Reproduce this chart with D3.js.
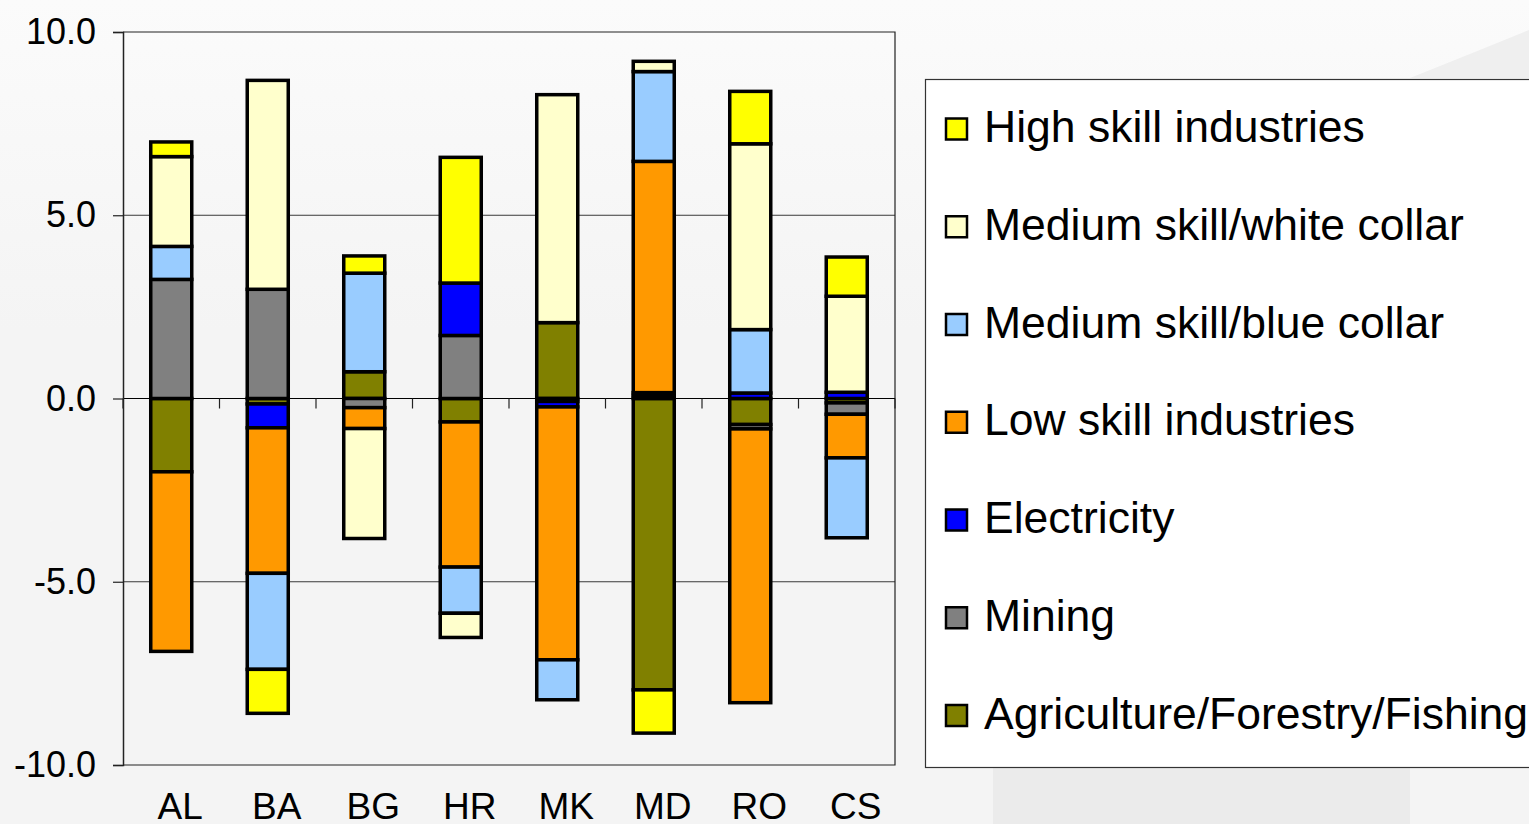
<!DOCTYPE html>
<html>
<head>
<meta charset="utf-8">
<script src="https://cdn.jsdelivr.net/npm/d3@7"></script>
<style>
  body { margin: 0; background: #f4f4f4; }
  svg { display: block; font-family: "Liberation Sans", Arial, sans-serif; }
</style>
</head>
<body>
<svg id="chart" width="1529" height="824"></svg>
<script>
// countries along the x axis
var countries = ["AL", "BA", "BG", "HR", "MK", "MD", "RO", "CS"];

// series, in stacking order (first one sits next to zero)
var seriesNames = ["Agriculture/Forestry/Fishing", "Mining", "Electricity", "Low skill industries",
                   "Medium skill/blue collar", "Medium skill/white collar", "High skill industries"];
var seriesColors = ["#808000", "#808080", "#0000ff", "#ff9900", "#99ccff", "#ffffcc", "#ffff00"];

// one value per country
var agriculture = [-2.0, -0.15, 0.73, -0.64, 2.07, -7.95, -0.71, -0.12];
var mining      = [3.25, 2.98, -0.25, 1.72, -0.08, 0.08, -0.12, -0.31];
var electricity = [0, -0.65, 0, 1.43, -0.15, 0.08, 0.15, 0.17];
var lowSkill    = [-4.9, -3.97, -0.57, -3.96, -6.9, 6.31, -7.47, -1.19];
var blueCollar  = [0.9, -2.62, 2.69, -1.26, -1.09, 2.45, 1.73, -2.18];
var whiteCollar = [2.45, 5.7, -3.0, -0.66, 6.22, 0.28, 5.07, 2.62];
var highSkill   = [0.4, -1.2, 0.47, 3.43, 0, -1.18, 1.43, 1.07];

var yTicks = [10, 5, 0, -5, -10];

var seriesValues = [agriculture, mining, electricity, lowSkill, blueCollar, whiteCollar, highSkill];

// table for d3.stack : one row per country
var rows = countries.map(function(c, i) {
  var r = { country: c };
  seriesNames.forEach(function(s, j) { r[s] = seriesValues[j][i]; });
  return r;
});

var svg = d3.select("#chart");

// ---- background ----
var defs = svg.append("defs");
var grad = defs.append("linearGradient").attr("id", "bg").attr("x1", 0).attr("y1", 0).attr("x2", 0).attr("y2", 1);
grad.append("stop").attr("offset", "0%").attr("stop-color", "#fbfbfb");
grad.append("stop").attr("offset", "40%").attr("stop-color", "#f4f4f4");
grad.append("stop").attr("offset", "100%").attr("stop-color", "#f4f4f4");
svg.append("rect").attr("width", 1529).attr("height", 824).attr("fill", "url(#bg)");
svg.append("path").attr("d", "M1410,78 Q1480,50 1529,30 L1529,78 Z").attr("fill", "#efefef");
svg.append("rect").attr("x", 993).attr("y", 768).attr("width", 417).attr("height", 56).attr("fill", "#ebebeb");

// ---- scales ----
var plotLeft = 123, plotRight = 895, plotTop = 32, plotBottom = 765;

var x = d3.scaleBand()
  .domain(countries)
  .range([plotLeft, plotRight])
  .paddingInner(0.575)
  .paddingOuter(0.2875);

var y = d3.scaleLinear()
  .domain([-10, 10])
  .range([plotBottom, plotTop]);

// gridlines
svg.append("g")
  .selectAll("line")
  .data(yTicks.filter(function(d) { return d !== 0 && Math.abs(d) !== 10; }))
  .enter().append("line")
    .attr("x1", plotLeft).attr("x2", plotRight)
    .attr("y1", function(d) { return y(d); })
    .attr("y2", function(d) { return y(d); })
    .attr("stroke", "#3a3a3a")
    .attr("stroke-width", 1);

// plot border (top, right, bottom)
svg.append("path")
  .attr("d", "M" + plotLeft + "," + y(10) + "H" + plotRight + "V" + y(-10) + "H" + plotLeft)
  .attr("fill", "none")
  .attr("stroke", "#222")
  .attr("stroke-width", 1.2);

// ---- stacked bars ----
var stackedData = d3.stack()
  .keys(seriesNames)
  .order(d3.stackOrderNone)
  .offset(d3.stackOffsetDiverging)(rows);

svg.append("g")
  .selectAll("g")
  .data(stackedData)
  .enter().append("g")
    .attr("fill", function(d, i) { return seriesColors[i]; })
    .selectAll("rect")
    .data(function(d) { return d.filter(function(p) { return p[1] !== p[0]; }); })
    .enter().append("rect")
      .attr("x", function(d) { return x(d.data.country); })
      .attr("y", function(d) { return y(d[1]); })
      .attr("height", function(d) { return y(d[0]) - y(d[1]); })
      .attr("width", x.bandwidth())
      .attr("stroke", "#000")
      .attr("stroke-width", 3.5);

// ---- axes ----
// zero line with category tick marks
svg.append("line")
  .attr("x1", plotLeft).attr("x2", plotRight)
  .attr("y1", y(0)).attr("y2", y(0))
  .attr("stroke", "#000").attr("stroke-width", 1.2);

svg.append("g")
  .selectAll("line")
  .data(d3.range(countries.length + 1))
  .enter().append("line")
    .attr("x1", function(i) { return plotLeft + i * x.step(); })
    .attr("x2", function(i) { return plotLeft + i * x.step(); })
    .attr("y1", y(0))
    .attr("y2", y(0) + 10)
    .attr("stroke", "#222")
    .attr("stroke-width", 1.2);

// y axis
var yAxis = svg.append("g")
  .attr("transform", "translate(" + plotLeft + ",0)")
  .call(d3.axisLeft(y).tickValues(yTicks).tickSize(10).tickPadding(17)
    .tickFormat(function(d) { return d.toFixed(1); }));
yAxis.select(".domain").attr("stroke", "#222").attr("stroke-width", 1.5);
yAxis.selectAll(".tick line").attr("stroke", "#222").attr("stroke-width", 1.2);
yAxis.selectAll(".tick text")
  .attr("fill", "#000")
  .style("font-size", "36px")
  .style("font-family", "'Liberation Sans', Arial, sans-serif");

// x labels
svg.append("g")
  .selectAll("text")
  .data(countries)
  .enter().append("text")
    .attr("x", function(d) { return x(d) + x.bandwidth() / 2 + 9; })
    .attr("y", 819)
    .attr("text-anchor", "middle")
    .style("font-size", "37px")
    .attr("fill", "#000")
    .text(function(d) { return d; });

// ---- legend ----
var legend = svg.append("g");
legend.append("rect")
  .attr("x", 925.5).attr("y", 79.5)
  .attr("width", 610).attr("height", 688)
  .attr("fill", "#fff")
  .attr("stroke", "#333")
  .attr("stroke-width", 1.2);

var legendItems = seriesNames.map(function(s, i) { return { name: s, color: seriesColors[i] }; }).reverse();

var item = legend.selectAll(".item")
  .data(legendItems)
  .enter().append("g")
    .attr("class", "item")
    .attr("transform", function(d, i) { return "translate(0," + (129 + i * 97.75) + ")"; });

item.append("rect")
  .attr("x", 946).attr("y", -10.5)
  .attr("width", 21).attr("height", 21)
  .attr("fill", function(d) { return d.color; })
  .attr("stroke", "#000")
  .attr("stroke-width", 2.5);

item.append("text")
  .attr("x", 984)
  .attr("y", 13)
  .style("font-size", "44.5px")
  .attr("fill", "#000")
  .text(function(d) { return d.name; });
</script>
</body>
</html>
